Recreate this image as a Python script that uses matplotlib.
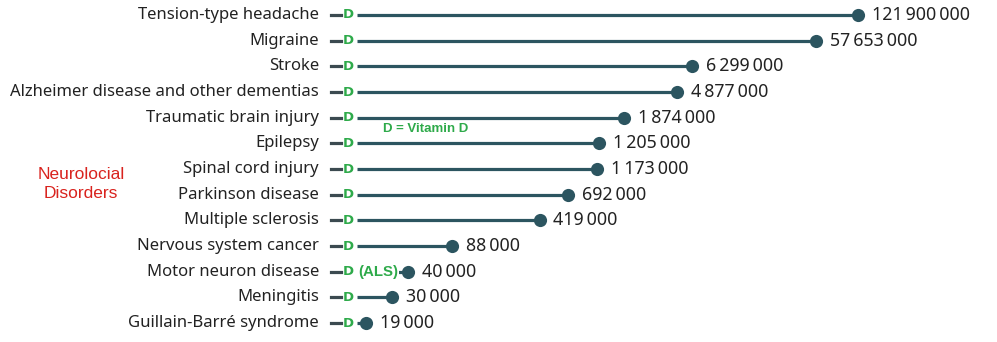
import numpy as np
import matplotlib.pyplot as plt
import matplotlib.transforms as mtransforms

# Data
disorders = [
    "Tension-type headache", "Migraine", "Stroke",
    "Alzheimer disease and other dementias", "Traumatic brain injury",
    "Epilepsy", "Spinal cord injury", "Parkinson disease",
    "Multiple sclerosis", "Nervous system cancer", "Motor neuron disease",
    "Meningitis", "Guillain-Barré syndrome",
]
cases = [121900000, 57653000, 6299000, 4877000, 1874000, 1205000, 1173000,
         692000, 419000, 88000, 40000, 30000, 19000]

line_color = "#2c5560"
green = "#2eaa4a"
red = "#d9231e"
label_font = ["Noto Sans", "DejaVu Sans"]

W, H = 997, 342
fig = plt.figure(figsize=(W / 100, H / 100), dpi=100)

# axis box: left edge where the stems start, rows 25.7 px apart
row_h = 25.67
y_first = 15
left_px, right_px = 357, 990
top = 1 - (y_first - row_h / 2) / H
bottom = 1 - (y_first + 12 * row_h + row_h / 2) / H
ax = fig.add_axes([left_px / W, bottom, (right_px - left_px) / W, top - bottom])
ax.set_xscale("log")
px_per_dec = 129.2
lo = np.log10(19000) - (366 - left_px) / px_per_dec
hi = lo + (right_px - left_px) / px_per_dec
ax.set_xlim(10 ** lo, 10 ** hi)
ax.set_ylim(len(disorders) - 0.5, -0.5)
ax.axis("off")

ypos = np.arange(len(disorders))
ax.hlines(ypos, 10 ** lo, cases, color=line_color, lw=2.3, zorder=2)
ax.scatter(cases, ypos, s=90, color=line_color, zorder=3, linewidths=0)

def fmt(v):
    return f"{v:,}".replace(",", "\u2009")

for y, v in zip(ypos, cases):
    ax.annotate(fmt(v), (v, y), xytext=(10, 0), textcoords="offset points",
                va="center", ha="left", fontsize=12.8, color="#222222",
                family=label_font)

# labels, dash and the green "D" on the left, in figure-x / data-y
tr = mtransforms.blended_transform_factory(fig.transFigure, ax.transData)
for y, name in zip(ypos, disorders):
    fig.text(319 / W, y, name, transform=tr, ha="right", va="center",
             fontsize=12, color="#222222", family=label_font)
    fig.add_artist(plt.Line2D([331 / W, 341 / W], [y, y], transform=tr,
                              color="#3b4a50", lw=2.3))
    fig.text(348.5 / W, y, "D", transform=tr, ha="center", va="center",
             fontsize=9.5, fontweight="bold", color=green,
             family=["DejaVu Sans"])

fig.text(358 / W, 10, "(ALS)", transform=tr, ha="left", va="center",
         fontsize=10.8, fontweight="bold", color=green, family=["Liberation Sans"],
         bbox=dict(facecolor="white", edgecolor="none", pad=0.6))
fig.text(383 / W, 1 - 129 / H, "D = Vitamin D", ha="left", va="center",
         fontsize=9.5, fontweight="bold", color=green, family=["Liberation Sans"])
fig.text(81 / W, 1 - 184 / H, "Neurolocial\nDisorders", ha="center",
         va="center", fontsize=12.5, color=red, family=["Liberation Sans"],
         linespacing=1.3)

fig.savefig("out.png", dpi=100)
